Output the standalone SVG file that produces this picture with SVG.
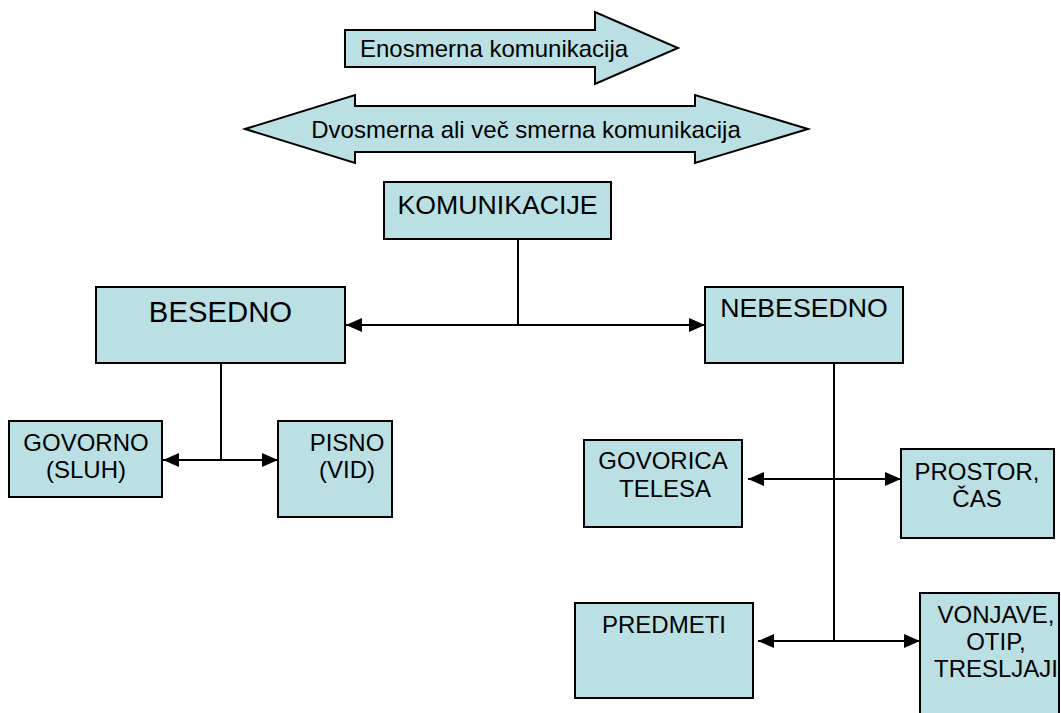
<svg xmlns="http://www.w3.org/2000/svg" width="1061" height="713" viewBox="0 0 1061 713">
<style>
.box{fill:#BBE0E3;stroke:#000;stroke-width:2}
.shape{fill:#BBE0E3;stroke:#000;stroke-width:2;stroke-linejoin:miter}
text{font-family:"Liberation Sans",Arial,sans-serif;fill:#000;text-anchor:middle}
.s{font-size:24px}
.m{font-size:26.7px}
.l{font-size:29.3px}
.c{fill:none;stroke:#000;stroke-width:2}
.a{marker-start:url(#ah);marker-end:url(#ah)}
</style>
<defs>
<marker id="ah" markerUnits="userSpaceOnUse" markerWidth="16" markerHeight="14" refX="16" refY="7" orient="auto-start-reverse" viewBox="0 0 16 14">
<path d="M0,0 L16,7 L0,14 z" fill="#000"/>
</marker>
</defs>
<rect width="1061" height="713" fill="#fff"/>
<g id="enosmerna">
<path class="shape" d="M345,30 L595,30 L595,12 L678,48 L595,84 L595,67 L345,67 Z"/>
<text class="s" x="360" y="57" style="text-anchor:start">Enosmerna komunikacija</text>
</g>
<g id="dvosmerna">
<path class="shape" d="M245,129 L355,95 L355,106 L695,106 L695,95 L808,129 L695,163 L695,152 L355,152 L355,163 Z"/>
<text class="s" x="526" y="138">Dvosmerna ali več smerna komunikacija</text>
</g>
<g id="connectors">
<path class="c" d="M518,239 L518,325"/>
<path class="c a" d="M346,325 L705,325"/>
<path class="c" d="M221,363 L221,460"/>
<path class="c a" d="M163,460 L278,460"/>
<path class="c" d="M834,363 L834,641"/>
<path class="c a" d="M748,479 L901,479"/>
<path class="c a" d="M758,641 L920,641"/>
</g>
<g id="komunikacije">
<rect class="box" x="384" y="182" width="227" height="57"/>
<text class="m" x="497.5" y="214">KOMUNIKACIJE</text>
</g>
<g id="besedno">
<rect class="box" x="96" y="287" width="249" height="76"/>
<text class="l" x="220.5" y="322">BESEDNO</text>
</g>
<g id="nebesedno">
<rect class="box" x="705" y="287" width="198" height="76"/>
<text class="m" x="804" y="317">NEBESEDNO</text>
</g>
<g id="govorno">
<rect class="box" x="9" y="421" width="153" height="76"/>
<text class="s" x="86" y="451">GOVORNO</text>
<text class="s" x="86" y="478">(SLUH)</text>
</g>
<g id="pisno">
<rect class="box" x="278" y="421" width="114" height="96"/>
<text class="s" x="347" y="451">PISNO</text>
<text class="s" x="347" y="478">(VID)</text>
</g>
<g id="govorica">
<rect class="box" x="584" y="440" width="158" height="87"/>
<text class="s" x="663" y="469">GOVORICA</text>
<text class="s" x="665" y="497">TELESA</text>
</g>
<g id="prostor">
<rect class="box" x="901" y="449" width="153" height="89"/>
<text class="s" x="977" y="480">PROSTOR,</text>
<text class="s" x="977" y="507">ČAS</text>
</g>
<g id="predmeti">
<rect class="box" x="575" y="603" width="178" height="95"/>
<text class="s" x="664" y="633">PREDMETI</text>
</g>
<g id="vonjave">
<rect class="box" x="920" y="593" width="139" height="130"/>
<text class="s" x="996" y="623">VONJAVE,</text>
<text class="s" x="996" y="650">OTIP,</text>
<text class="s" x="996" y="677">TRESLJAJI</text>
</g>
</svg>
